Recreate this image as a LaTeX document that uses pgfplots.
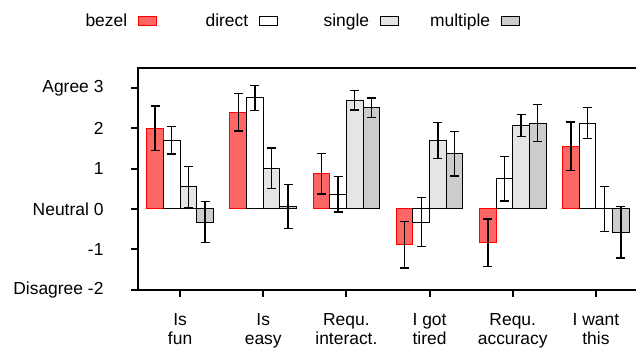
\documentclass[border=0pt]{standalone}
\usepackage{fontspec}
\setmainfont{Liberation Sans}
\usepackage{pgfplots}
\pgfplotsset{compat=1.18}
\usepackage{pgfplotstable}
\definecolor{bezelfill}{HTML}{FF6666}
\definecolor{bezeledge}{HTML}{FF0000}
\definecolor{singlefill}{HTML}{E5E5E5}
\definecolor{multifill}{HTML}{CCCCCC}

\pgfplotstableread{
x y e
0 2.00 0.55
1 2.40 0.47
2 0.87 0.50
3 -0.89 0.58
4 -0.84 0.59
5 1.56 0.60
}\bezel
\pgfplotstableread{
x y e
0 1.70 0.34
1 2.76 0.31
2 0.36 0.44
3 -0.33 0.61
4 0.75 0.55
5 2.13 0.38
}\direct
\pgfplotstableread{
x y e
0 0.55 0.51
1 1.01 0.50
2 2.70 0.24
3 1.70 0.45
4 2.07 0.27
5 0.00 0.56
}\single
\pgfplotstableread{
x y e
0 -0.33 0.51
1 0.06 0.54
2 2.51 0.24
3 1.37 0.55
4 2.13 0.46
5 -0.58 0.64
}\multiple

\pgfplotsset{myerr/.style={error bars/.cd, y dir=both, y explicit,
    error bar style={line width=1.4bp, draw=black, solid},
    error mark options={rotate=90, mark size=4.5bp, line width=1.4bp, draw=black}}}

\begin{document}
\fontsize{17.5}{20}\selectfont
\begin{tikzpicture}
\begin{axis}[
  name=ax,
  scale only axis,
  width=499bp, height=221.6bp,
  xmin=-0.5, xmax=5.5, ymin=-2, ymax=3.5,
  ybar=0pt, bar width=0.2,
  xtick={0,...,5},
  xticklabels={{Is\\fun},{Is\\easy},{Requ.\\interact.},{I got\\tired},{Requ.\\accuracy},{I want\\this}},
  xticklabel style={align=center, font=\fontsize{17.5}{19.5}\selectfont, yshift=-11bp},
  ytick={-2,...,3},
  yticklabels={Disagree -2,-1,Neutral 0,1,2,Agree 3},
  yticklabel style={xshift=-22bp},
  tick pos=left,
  tick align=outside,
  major tick length=7bp,
  axis line style={line width=2bp},
  tick style={line width=2bp, black},
  legend columns=4,
  legend plot pos=right,
  legend style={draw=none, fill=none, inner sep=0pt,
    at={(axis description cs:-0.1473,1.2116)}, anchor=west,
    nodes={inner sep=0pt, text width=62bp, align=right},
    /tikz/every odd column/.append style={column sep=11bp},
    /tikz/every even column/.append style={column sep=29bp}},
  legend image code/.code={\draw[#1, line width=1bp] (0bp,-4.5bp) rectangle (18bp,4.5bp);},
]
\addplot[fill=bezelfill, draw=bezeledge, line width=1bp, myerr] table[x=x, y=y, y error=e] {\bezel};
\addlegendentry{bezel}
\addplot[fill=white, draw=black, line width=1bp, myerr] table[x=x, y=y, y error=e] {\direct};
\addlegendentry{direct}
\addplot[fill=singlefill, draw=black, line width=1bp, myerr] table[x=x, y=y, y error=e] {\single};
\addlegendentry{single}
\addplot[fill=multifill, draw=black, line width=1bp, myerr] table[x=x, y=y, y error=e] {\multiple};
\addlegendentry{multiple}
\end{axis}
\pgfresetboundingbox
\path[use as bounding box] ([xshift=-138.5bp,yshift=-62.5bp]ax.south west) rectangle ([xshift=-1.5bp,yshift=67.9bp]ax.north east);
\end{tikzpicture}
\end{document}
